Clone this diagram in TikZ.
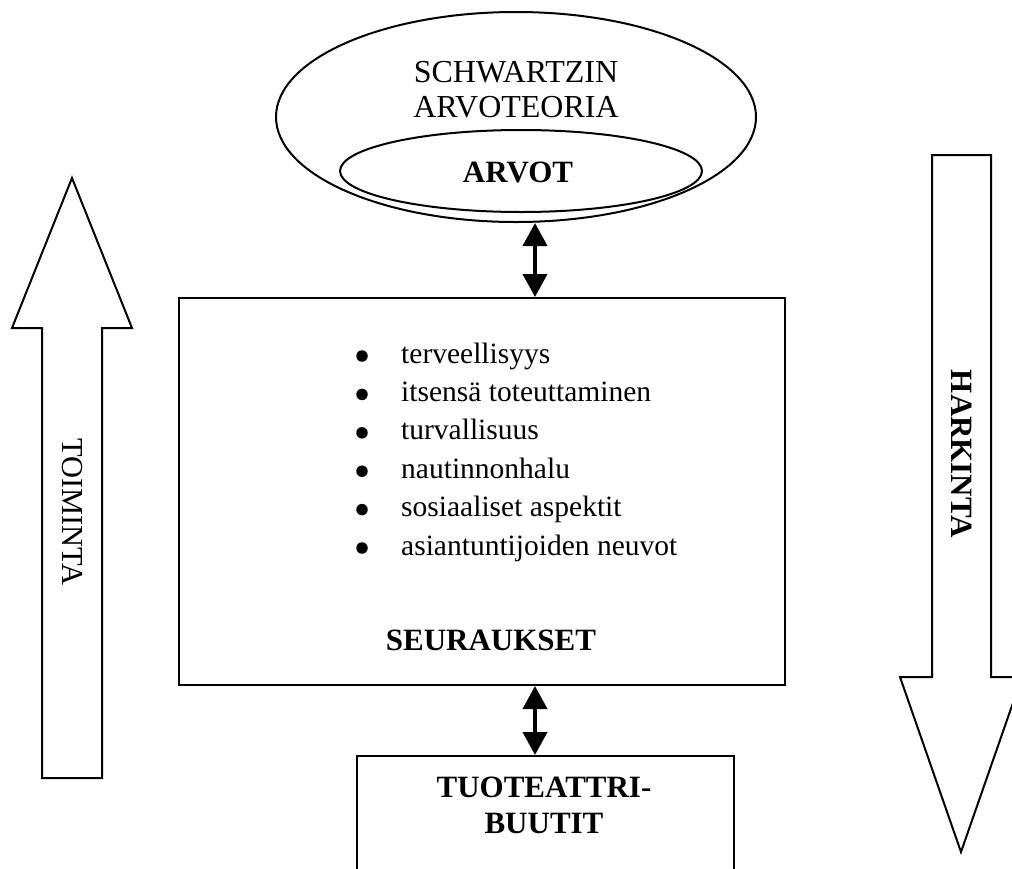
\documentclass[tikz,border=0pt]{standalone}
\usepackage{fontspec}
\setmainfont{Liberation Serif}
\usetikzlibrary{shapes.geometric,arrows.meta}
\begin{document}
\begin{tikzpicture}[x=1pt,y=-1pt,
  outline/.style={draw=black,line width=2pt,line join=miter},
  ttxt/.style={font=\fontsize{32}{35}\selectfont,inner sep=0pt,align=center},
  txt/.style={font=\fontsize{29.5}{36}\selectfont,inner sep=0pt,align=center},
  btxt/.style={font=\fontsize{31}{36}\selectfont\bfseries,inner sep=0pt,align=center},
  dot/.style={circle,fill=black,inner sep=0pt,minimum size=11.5pt},
  dbl/.style={{Triangle[width=24pt,length=23pt]}-{Triangle[width=24pt,length=23pt]},line width=4pt},
]
\useasboundingbox (0,0) rectangle (1012,868);
\clip (0,0) rectangle (1012,868);
\fill[white] (0,0) rectangle (1012,868);

% value theory: outer and inner ellipse
\node[outline,ellipse,minimum width=480pt,minimum height=210pt,inner sep=0pt] (schwartz) at (516,117) {};
\node[outline,ellipse,minimum width=362pt,minimum height=82pt,inner sep=0pt] (arvot) at (521,171) {};
\node[ttxt] (title) at (516,90) {SCHWARTZIN\\ARVOTEORIA};
\node[btxt] (arvotlbl) at (518,172) {ARVOT};

% consequences box
\node[outline,rectangle,minimum width=606pt,minimum height=387pt,inner sep=0pt] (seur) at (482,491.5) {};
\foreach \t [count=\i from 0] in {terveellisyys,itsensä toteuttaminen,turvallisuus,nautinnonhalu,sosiaaliset aspektit,asiantuntijoiden neuvot}{
  \node[dot] (b\i) at ({362},{356+38.4*\i}) {};
  \node[txt,anchor=base west] (l\i) at ({401},{363+38.4*\i}) {\t};
}
\node[btxt] (seurlbl) at (491,640) {SEURAUKSET};

% product attributes box
\node[outline,rectangle,minimum width=377pt,minimum height=200pt,inner sep=0pt,anchor=north west] (tuote) at (356,755) {};
\node[btxt] (tuotelbl) at (544,805) {TUOTEATTRI-\\BUUTIT};

% two-way links
\coordinate (ax) at (535,0);
\draw[dbl] (ax |- schwartz.south) -- (ax |- seur.north);
\draw[dbl] (ax |- seur.south) -- (ax |- tuote.north);

% upward block arrow
\draw[outline] (42,778) -- (42,328) -- (12,328) -- (72,178) -- (132,328) -- (102,328) -- (102,778) -- cycle;
\node[ttxt,font=\fontsize{30.5}{36}\selectfont,rotate=-90] (toim) at (72,512) {TOIMINTA};

% downward block arrow
\draw[outline] (932,155) -- (991,155) -- (991,677) -- (1022,677) -- (961,852) -- (900,677) -- (932,677) -- cycle;
\node[btxt,rotate=-90] (hark) at (962,454) {HARKINTA};
\end{tikzpicture}
\end{document}
